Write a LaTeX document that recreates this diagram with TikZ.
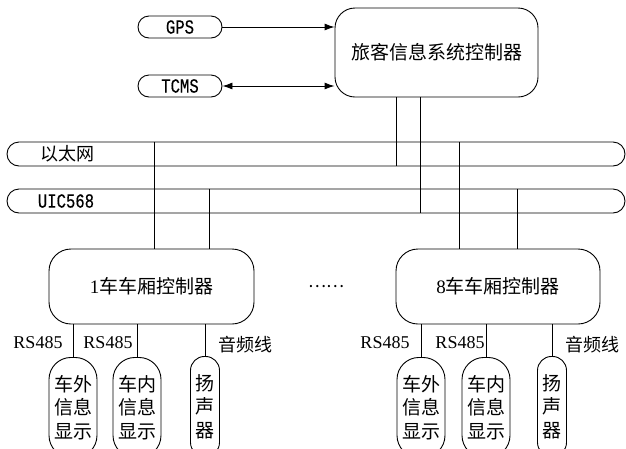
\documentclass[tikz,border=0pt]{standalone}
\usepackage{fontspec}
\setmainfont{Liberation Serif}
\newfontfamily\cjk{Noto Sans CJK SC}
\newfontfamily\narrowmono{Liberation Mono}[FakeStretch=0.78,FakeBold=0.25]
\usetikzlibrary{arrows.meta}
\begin{document}
\begin{tikzpicture}[x=1pt,y=-1pt,line width=0.9pt,
  rbox/.style={draw,rounded corners=#1,inner sep=0pt},
  cjktext/.style={font=\fontsize{18}{22}\selectfont\cjk},
  latintext/.style={font=\fontsize{18}{22}\selectfont},
  monotext/.style={font=\fontsize{20}{22}\selectfont\narrowmono},
  disp/.style={draw,rounded corners=#1,inner sep=0pt,anchor=north,minimum height=100,align=center,font=\fontsize{19}{23.5}\selectfont\cjk},
  arr/.style={-{Latex[length=10pt,width=7pt]}},
  darr/.style={{Latex[length=10pt,width=7pt]}-{Latex[length=10pt,width=7pt]}}]
\useasboundingbox (0,0) rectangle (626,448);
\clip (0,0) rectangle (626,448);
% top
\node[rbox=11,minimum width=84,minimum height=22,monotext] (gps) at (180,27) {GPS};
\node[rbox=11,minimum width=84,minimum height=22,monotext] (tcms) at (180,86) {TCMS};
\node[rbox=20,minimum width=203,minimum height=89,font=\fontsize{19}{22}\selectfont\cjk] (ctrl) at (436.5,52.5) {旅客信息系统控制器};
\draw[arr] (gps.east) -- (gps.east -| ctrl.west);
\draw[darr] (tcms.east) -- (tcms.east -| ctrl.west);
% buses
\node[rbox=12,minimum width=618,minimum height=24] (eth) at (316,154) {};
\node[cjktext] (ethlabel) at (67,154) {以太网};
\node[rbox=12,minimum width=618,minimum height=24] (uic) at (316,201) {};
\node[monotext] (uiclabel) at (66,201) {UIC568};
% car controllers
\node[rbox=22,minimum width=205,minimum height=75,font=\fontsize{19}{22}\selectfont] (car1) at (151.5,286.5) {1{\cjk 车车厢控制器}};
\node[rbox=22,minimum width=204,minimum height=75,font=\fontsize{19}{22}\selectfont] (car8) at (498,286.5) {8{\cjk 车车厢控制器}};
\node[font=\fontsize{17}{20}\selectfont\cjk] (dots) at (326,287) {……};
% x positions of vertical lines
\coordinate (xa) at (396,0);
\coordinate (xb) at (420,0);
\coordinate (xc) at (154,0);
\coordinate (xd) at (209,0);
\coordinate (xe) at (459,0);
\coordinate (xf) at (517,0);
\draw (ctrl.south -| xa) -- (eth.south -| xa);
\draw (ctrl.south -| xb) -- (uic.south -| xb);
\draw (eth.north -| xc) -- (car1.north -| xc);
\draw (uic.north -| xd) -- (car1.north -| xd);
\draw (eth.north -| xe) -- (car8.north -| xe);
\draw (uic.north -| xf) -- (car8.north -| xf);
% car 1 devices
\node[disp=22,minimum width=48] (d1a) at (73,357) {车外\\信息\\显示};
\node[disp=22,minimum width=48] (d1b) at (137,357) {车内\\信息\\显示};
\node[disp=14,minimum width=29] (d1c) at (205,356) {扬\\声\\器};
\draw (car1.south -| d1a.north) -- (d1a.north);
\draw (car1.south -| d1b.north) -- (d1b.north);
\draw (car1.south -| d1c.north) -- (d1c.north);
\node[latintext] (l1a) at (38,343) {RS485};
\node[latintext] (l1b) at (108,343) {RS485};
\node[cjktext] (l1c) at (245,345) {音频线};
% car 8 devices
\node[disp=22,minimum width=48] (d8a) at (421,357) {车外\\信息\\显示};
\node[disp=22,minimum width=48] (d8b) at (486,357) {车内\\信息\\显示};
\node[disp=14,minimum width=29] (d8c) at (552,356) {扬\\声\\器};
\draw (car8.south -| d8a.north) -- (d8a.north);
\draw (car8.south -| d8b.north) -- (d8b.north);
\draw (car8.south -| d8c.north) -- (d8c.north);
\node[latintext] (l8a) at (385,343) {RS485};
\node[latintext] (l8b) at (460,343) {RS485};
\node[cjktext] (l8c) at (592,345) {音频线};
\end{tikzpicture}
\end{document}
